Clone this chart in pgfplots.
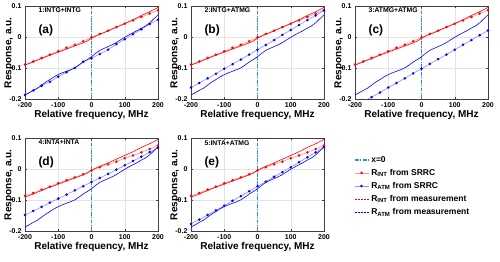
\documentclass[border=0pt]{standalone}
\usepackage{pgfplots}
\usepackage{pgfplotstable}
\usepackage{fontspec}
\setmainfont{Liberation Sans}
\pgfplotsset{compat=1.18}

\definecolor{mblue}{RGB}{40,145,215}
\definecolor{pinkline}{RGB}{255,150,150}
\definecolor{lblueline}{RGB}{150,150,255}

% x = 0 reference line, drawn as dash-dot segments
\pgfplotstableread{
x y
0 -0.2
0 -0.188
nan nan
0 -0.1835
0 -0.1795
nan nan
0 -0.175
0 -0.163
nan nan
0 -0.1585
0 -0.1545
nan nan
0 -0.15
0 -0.138
nan nan
0 -0.1335
0 -0.1295
nan nan
0 -0.125
0 -0.113
nan nan
0 -0.1085
0 -0.1045
nan nan
0 -0.1
0 -0.088
nan nan
0 -0.0835
0 -0.0795
nan nan
0 -0.075
0 -0.063
nan nan
0 -0.0585
0 -0.0545
nan nan
0 -0.05
0 -0.038
nan nan
0 -0.0335
0 -0.0295
nan nan
0 -0.025
0 -0.013
nan nan
0 -0.0085
0 -0.0045
nan nan
0 0.0
0 0.012
nan nan
0 0.0165
0 0.0205
nan nan
0 0.025
0 0.037
nan nan
0 0.0415
0 0.0455
nan nan
0 0.05
0 0.062
nan nan
0 0.0665
0 0.0705
nan nan
0 0.075
0 0.087
nan nan
0 0.0915
0 0.0955
}\zeroline

% SRRC, R_INT (panels a-c)
\pgfplotstableread{
x y
-200 -0.088
-175 -0.078
-150 -0.067
-125 -0.056
-100 -0.045
-75 -0.034
-50 -0.024
-25 -0.013
0 0.000
25 0.011
50 0.022
75 0.033
100 0.044
125 0.055
150 0.066
175 0.077
200 0.088
}\intA
% SRRC, R_INT (panels d-e)
\pgfplotstableread{
x y
-200 -0.086
-175 -0.077
-150 -0.066
-125 -0.056
-100 -0.045
-75 -0.035
-50 -0.026
-25 -0.016
0 -0.004
25 0.007
50 0.016
75 0.025
100 0.036
125 0.045
150 0.055
175 0.066
200 0.077
}\intD
% measurement, R_INT
\pgfplotstableread{
x y
-200 -0.090
-187.5 -0.085
-175 -0.080
-162.5 -0.074
-150 -0.069
-137.5 -0.063
-125 -0.058
-112.5 -0.053
-100 -0.048
-87.5 -0.043
-75 -0.038
-62.5 -0.033
-50 -0.028
-37.5 -0.023
-25 -0.018
-12.5 -0.012
0 -0.003
12.5 0.004
25 0.010
37.5 0.015
50 0.021
62.5 0.027
75 0.033
87.5 0.039
100 0.045
112.5 0.051
125 0.057
137.5 0.064
150 0.071
162.5 0.077
175 0.083
187.5 0.090
200 0.097
}\intM
% measurement, R_ATM
\pgfplotstableread{
x y
-200 -0.187
-187.5 -0.180
-175 -0.172
-162.5 -0.165
-150 -0.155
-137.5 -0.145
-125 -0.137
-112.5 -0.128
-100 -0.121
-87.5 -0.115
-75 -0.110
-62.5 -0.105
-50 -0.099
-37.5 -0.090
-25 -0.080
-12.5 -0.072
0 -0.063
12.5 -0.052
25 -0.042
37.5 -0.036
50 -0.030
62.5 -0.024
75 -0.017
87.5 -0.008
100 0.000
112.5 0.008
125 0.015
137.5 0.022
150 0.030
162.5 0.037
175 0.047
187.5 0.060
200 0.073
}\atmM
% SRRC, R_ATM, panels a..e
\pgfplotstableread{
x y
-200 -0.187
-175 -0.172
-150 -0.157
-125 -0.144
-100 -0.128
-75 -0.113
-50 -0.099
-25 -0.079
0 -0.068
25 -0.054
50 -0.040
75 -0.022
100 -0.006
125 0.010
150 0.026
175 0.043
200 0.057
}\atmA
\pgfplotstableread{
x y
-200 -0.163
-175 -0.148
-150 -0.133
-125 -0.118
-100 -0.102
-75 -0.087
-50 -0.072
-25 -0.056
0 -0.040
25 -0.025
50 -0.009
75 0.008
100 0.024
125 0.040
150 0.056
175 0.071
200 0.087
}\atmB
\pgfplotstableread{
x y
-200 -0.225
-175 -0.209
-150 -0.194
-125 -0.179
-100 -0.163
-75 -0.148
-50 -0.133
-25 -0.117
0 -0.102
25 -0.086
50 -0.071
75 -0.056
100 -0.040
125 -0.024
150 -0.009
175 0.007
200 0.022
}\atmC
\pgfplotstableread{
x y
-200 -0.148
-175 -0.135
-150 -0.122
-125 -0.108
-100 -0.095
-75 -0.082
-50 -0.068
-25 -0.055
0 -0.041
25 -0.028
50 -0.015
75 -0.001
100 0.013
125 0.027
150 0.041
175 0.056
200 0.070
}\atmD
\pgfplotstableread{
x y
-200 -0.177
-175 -0.163
-150 -0.148
-125 -0.133
-100 -0.118
-75 -0.102
-50 -0.087
-25 -0.071
0 -0.055
25 -0.040
50 -0.024
75 -0.009
100 0.007
125 0.023
150 0.039
175 0.055
200 0.072
}\atmE

\pgfplotsset{
  panel/.style={
    scale only axis, width=133pt, height=92.5pt,
    xmin=-200, xmax=200, ymin=-0.2, ymax=0.1,
    xtick={-200,-100,0,100,200}, ytick={-0.2,-0.1,0,0.1},
    grid=major, grid style={gray!22, line width=0.4pt},
    axis line style={black!75, line width=0.5pt},
    tick align=inside, major tick length=2pt,
    tick style={black!75},
    unbounded coords=jump,
    /pgf/number format/assume math mode=true,
    yticklabel style={/pgf/number format/fixed},
    tick label style={font=\bfseries\fontsize{7}{8}\selectfont},
    label style={font=\bfseries\fontsize{10}{11}\selectfont},
    xlabel={Relative frequency, MHz},
    ylabel={Response, a.u.},
    xlabel style={at={(axis description cs:0.5,-0.175)}, anchor=center},
    ylabel style={at={(axis description cs:-0.12,0.5)}, anchor=center},
  },
  zline/.style={color=mblue, line width=1.5pt,
    legend image code/.code={\draw[##1] (0pt,0pt)--(4pt,0pt) (5.5pt,0pt)--(6.8pt,0pt) (8.3pt,0pt)--(12.3pt,0pt) (13.5pt,0pt)--(14pt,0pt);}},
  srint/.style={color=pinkline, line width=0.7pt, mark=*, mark size=0.9pt, mark options={color=red, fill=red, solid}},
  sratm/.style={color=lblueline, line width=0.7pt, mark=*, mark size=0.9pt, mark options={color=blue, fill=blue, solid}},
  mint/.style={color=red, line width=0.6pt,
    legend image code/.code={\draw[##1] (0pt,0pt)--(2pt,0pt) (3pt,0pt)--(5pt,0pt) (6pt,0pt)--(8pt,0pt) (9pt,0pt)--(11pt,0pt) (12pt,0pt)--(14pt,0pt);}},
  matm/.style={color=blue, line width=0.6pt,
    legend image code/.code={\draw[##1] (0pt,0pt)--(2pt,0pt) (3pt,0pt)--(5pt,0pt) (6pt,0pt)--(8pt,0pt) (9pt,0pt)--(11pt,0pt) (12pt,0pt)--(14pt,0pt);}},
  legend image code/.code={%
    \draw[mark repeat=2,mark phase=2,#1] plot coordinates {(0pt,0pt) (7pt,0pt) (14pt,0pt)};},
}

\newcommand{\panellabels}[2]{%
  \node[anchor=west, font=\bfseries\fontsize{6.8}{7}\selectfont, inner sep=0pt] at (rel axis cs:0.1,0.955) {#1};
  \node[anchor=west, font=\bfseries\fontsize{12}{13}\selectfont, inner sep=0pt] at (rel axis cs:0.1,0.74) {#2};
}

\begin{document}
\begin{tikzpicture}
\useasboundingbox (0pt,0pt) rectangle (500pt,262pt);

\begin{axis}[panel, at={(25pt,163pt)}, anchor=south west]
\addplot[srint] table {\intA};
\addplot[sratm] table {\atmA};
\addplot[mint] table {\intM};
\addplot[matm] table {\atmM};
\addplot[zline] table {\zeroline};
\panellabels{1:INTG+INTG}{(a)}
\end{axis}

\begin{axis}[panel, at={(191pt,163pt)}, anchor=south west]
\addplot[srint] table {\intA};
\addplot[sratm] table {\atmB};
\addplot[mint] table {\intM};
\addplot[matm] table {\atmM};
\addplot[zline] table {\zeroline};
\panellabels{2:INTG+ATMG}{(b)}
\end{axis}

\begin{axis}[panel, at={(355pt,163pt)}, anchor=south west]
\addplot[srint] table {\intA};
\addplot[sratm] table {\atmC};
\addplot[mint] table {\intM};
\addplot[matm] table {\atmM};
\addplot[zline] table {\zeroline};
\panellabels{3:ATMG+ATMG}{(c)}
\end{axis}

\begin{axis}[panel, at={(25pt,31pt)}, anchor=south west]
\addplot[srint] table {\intD};
\addplot[sratm] table {\atmD};
\addplot[mint] table {\intM};
\addplot[matm] table {\atmM};
\addplot[zline] table {\zeroline};
\panellabels{4:INTA+INTA}{(d)}
\end{axis}

\begin{axis}[panel, at={(191pt,31pt)}, anchor=south west,
  legend style={at={(1.2,0.855)}, anchor=north west, draw=none, fill=none,
    font=\bfseries\fontsize{8.5}{9}\selectfont, row sep=1.5pt},
  legend cell align=left]
\addplot[zline, forget plot] table {\zeroline};
\addlegendimage{zline}
\addlegendentry{x=0}
\addplot[srint] table {\intD};
\addlegendentry{R\textsubscript{INT} from SRRC}
\addplot[sratm] table {\atmE};
\addlegendentry{R\textsubscript{ATM} from SRRC}
\addplot[mint] table {\intM};
\addlegendentry{R\textsubscript{INT} from measurement}
\addplot[matm] table {\atmM};
\addlegendentry{R\textsubscript{ATM} from measurement}
\panellabels{5:INTA+ATMG}{(e)}
\end{axis}
\end{tikzpicture}
\end{document}
